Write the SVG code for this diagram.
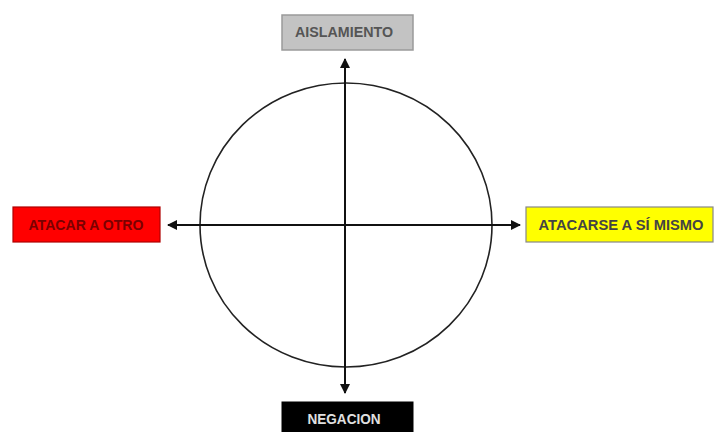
<svg xmlns="http://www.w3.org/2000/svg" width="717" height="432" viewBox="0 0 717 432">
<defs>
<style>
.lbl{font-family:"Liberation Sans",Arial,sans-serif;font-size:14px;font-weight:bold;text-anchor:middle}
.ax{stroke:#111;stroke-width:2;fill:none}
</style>
<marker id="ah" viewBox="0 0 10 10" refX="9" refY="5" markerWidth="5" markerHeight="5" orient="auto-start-reverse" markerUnits="strokeWidth">
<path d="M0,0 L10,5 L0,10 z" fill="#111"/>
</marker>
</defs>
<rect width="717" height="432" fill="#fff"/>
<g id="circle">
<ellipse cx="346" cy="225" rx="146" ry="142" fill="none" stroke="#222" stroke-width="1.6"/>
</g>
<g id="connectors">
<line class="ax" x1="345" y1="59" x2="345" y2="393" marker-start="url(#ah)" marker-end="url(#ah)"/>
<line class="ax" x1="168" y1="225" x2="520" y2="225" marker-start="url(#ah)" marker-end="url(#ah)"/>
</g>
<g id="aislamiento">
<rect x="282" y="15" width="131" height="35" fill="#c3c3c3" stroke="#9a9a9a" stroke-width="1.5"/>
<text class="lbl" x="344" y="37" fill="#555" textLength="98" lengthAdjust="spacingAndGlyphs">AISLAMIENTO</text>
</g>
<g id="atacar-otro">
<rect x="13" y="207" width="147" height="35" fill="#ff0000" stroke="#b00000" stroke-width="1.2"/>
<text class="lbl" x="86" y="230" fill="#7a0000" textLength="115" lengthAdjust="spacingAndGlyphs">ATACAR A OTRO</text>
</g>
<g id="atacarse">
<rect x="526" y="207" width="187" height="35" fill="#ffff00" stroke="#888" stroke-width="1.2"/>
<text class="lbl" x="621" y="230" fill="#444" textLength="165" lengthAdjust="spacingAndGlyphs">ATACARSE A SÍ  MISMO</text>
</g>
<g id="negacion">
<rect x="282" y="402" width="131" height="32" fill="#000" stroke="#000"/>
<text class="lbl" x="344" y="424" fill="#e0e0e0" textLength="73" lengthAdjust="spacingAndGlyphs">NEGACION</text>
</g>
</svg>
